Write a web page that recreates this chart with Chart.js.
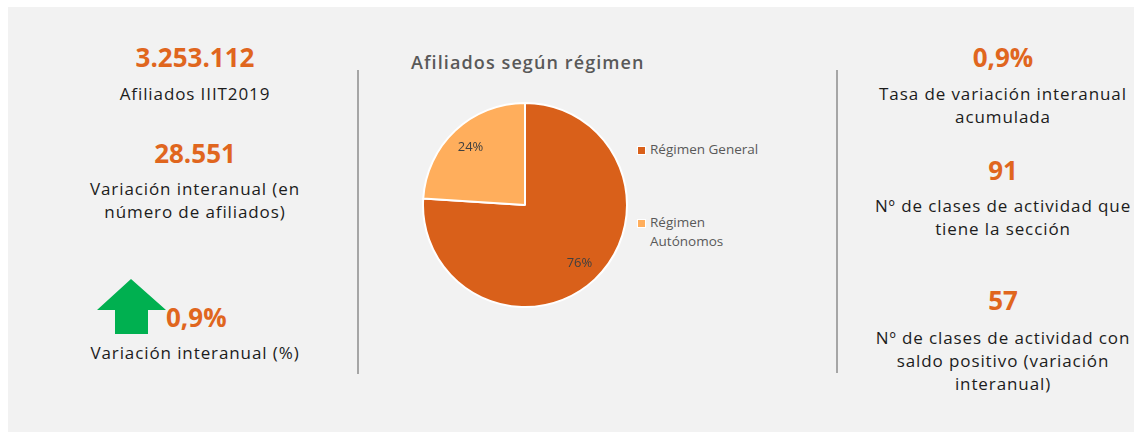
<!DOCTYPE html>
<html>
<head>
<meta charset="utf-8">
<script src="https://cdn.jsdelivr.net/npm/chart.js@4.4.0/dist/chart.umd.min.js"></script>
<style>
  html, body { margin: 0; padding: 0; background: #fff; width: 1134px; height: 432px; overflow: hidden; }
  .panel { position: absolute; left: 8px; top: 7px; right: 0; bottom: 0; background: #f2f2f2; }
  .t { position: absolute; white-space: nowrap; text-align: center; transform: translateX(-50%); }
  .num { font-family: "Open Sans", sans-serif; font-weight: 700; font-size: 26px; color: #e0661e; line-height: 30px; }
  .lbl { font-family: "Open Sans", sans-serif; font-size: 17px; letter-spacing: 0.9px; color: #1c1c1c; line-height: 23px; }
  .vline { position: absolute; width: 2px; background: #a6a6a6; }
  .title { position: absolute; left: 411px; top: 50px; font-family: "Open Sans", sans-serif; font-weight: 600; font-size: 18px; letter-spacing: 1.1px; color: #595959; white-space: nowrap; }
  #chartBox { position: absolute; left: 422px; top: 102px; width: 206px; height: 206px; }
  .legend { position: absolute; left: 637px; font-family: "Open Sans", sans-serif; font-size: 13.5px; color: #595959; line-height: 19px; }
  .legend .sw { position: absolute; left: 0; top: 6px; width: 7px; height: 7px; border: 1px solid #fff; }
  .legend .tx { position: absolute; left: 13px; top: 0; white-space: nowrap; }
</style>
</head>
<body>
<div class="panel"></div>

<div class="t num" style="left:195px; top:42px;">3.253.112</div>
<div class="t lbl" style="left:195px; top:82px;">Afiliados IIIT2019</div>
<div class="t num" style="left:195px; top:138px;">28.551</div>
<div class="t lbl" style="left:195px; top:177px;">Variación interanual (en<br>número de afiliados)</div>
<svg style="position:absolute; left:0; top:0;" width="300" height="400">
  <polygon points="131,279 166,310 148,310 148,334 115,334 115,310 97,310" fill="#00b050"/>
</svg>
<div class="num" style="position:absolute; left:166px; top:302px;">0,9%</div>
<div class="t lbl" style="left:195px; top:341px;">Variación interanual (%)</div>

<div class="vline" style="left:357px; top:70px; height:304px;"></div>
<div class="vline" style="left:836px; top:70px; height:303px;"></div>

<div class="title">Afiliados según régimen</div>
<div id="chartBox"><canvas id="pie"></canvas></div>
<div id="legend"></div>

<div class="t num" style="left:1003px; top:42px;">0,9%</div>
<div class="t lbl" style="left:1003px; top:82px;">Tasa de variación interanual<br>acumulada</div>
<div class="t num" style="left:1003px; top:155px;">91</div>
<div class="t lbl" style="left:1003px; top:194px;">Nº de clases de actividad que<br>tiene la sección</div>
<div class="t num" style="left:1003px; top:285px;">57</div>
<div class="t lbl" style="left:1003px; top:326px;">Nº de clases de actividad con<br>saldo positivo (variación<br>interanual)</div>

<script>
const categories = ['Régimen General', 'Régimen Autónomos'];
const legendLines = [['Régimen General'], ['Régimen', 'Autónomos']];
const shares = [76, 24];
const sliceColors = ['#d9601a', '#ffae5c'];

// html legend built from the category arrays
const legendTops = [140, 213];
const legendEl = document.getElementById('legend');
categories.forEach((c, i) => {
  const item = document.createElement('div');
  item.className = 'legend';
  item.style.top = legendTops[i] + 'px';
  item.innerHTML = '<span class="sw" style="background:' + sliceColors[i] + '"></span><span class="tx">' + legendLines[i].join('<br>') + '</span>';
  legendEl.appendChild(item);
});

// percentages drawn inside each slice
const pctLabels = {
  id: 'pctLabels',
  afterDatasetsDraw(chart) {
    const ctx = chart.ctx;
    const meta = chart.getDatasetMeta(0);
    ctx.save();
    ctx.font = '13px "Open Sans", sans-serif';
    ctx.fillStyle = '#404040';
    ctx.textAlign = 'center';
    ctx.textBaseline = 'middle';
    meta.data.forEach((arc, i) => {
      const p = arc.getProps(['x', 'y', 'startAngle', 'endAngle', 'outerRadius'], true);
      const mid = (p.startAngle + p.endAngle) / 2;
      const r = p.outerRadius * 0.78;
      ctx.fillText(shares[i] + '%', p.x + Math.cos(mid) * r, p.y + Math.sin(mid) * r);
    });
    ctx.restore();
  }
};

new Chart(document.getElementById('pie').getContext('2d'), {
  type: 'pie',
  data: {
    labels: categories,
    datasets: [{
      data: shares,
      backgroundColor: sliceColors,
      borderColor: '#ffffff',
      borderWidth: 2
    }]
  },
  options: {
    responsive: true,
    maintainAspectRatio: false,
    animation: false,
    layout: { padding: 0 },
    plugins: {
      legend: { display: false },
      tooltip: { enabled: false }
    }
  },
  plugins: [pctLabels]
});
</script>
</body>
</html>
